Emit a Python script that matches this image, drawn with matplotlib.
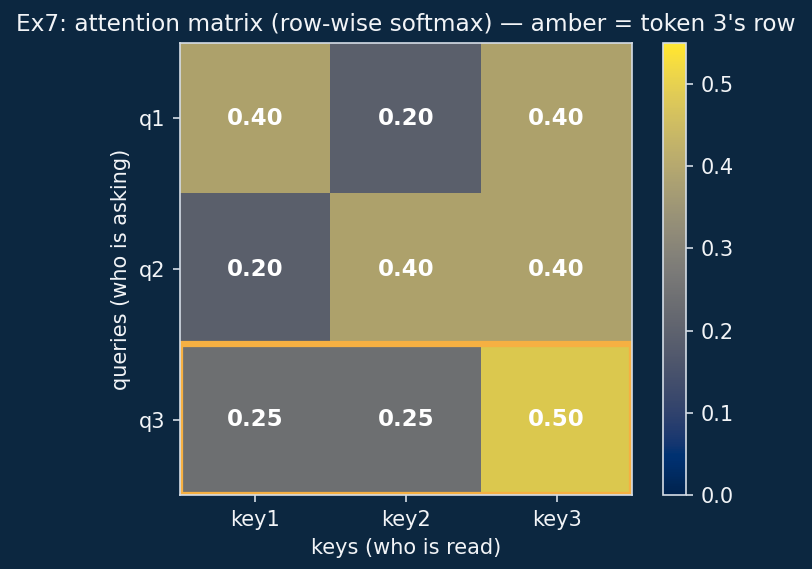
import matplotlib
matplotlib.use("Agg")
import matplotlib.pyplot as plt
import matplotlib.patches as patches
import numpy as np

# attention weights (rows = queries, cols = keys)
queries = ["q1", "q2", "q3"]
keys = ["key1", "key2", "key3"]
weights = np.array([
    [0.40, 0.20, 0.40],
    [0.20, 0.40, 0.40],
    [0.25, 0.25, 0.50],
])
highlight_row = 2

bg = "#0c2740"
fg = "#f2f4f7"
spine_col = "#d5dde6"
amber = "#f6b042"

plt.rcParams['font.family'] = ['DejaVu Sans']
fig = plt.figure(figsize=(812/150, 569/150), dpi=150, facecolor=bg)
ax = fig.add_axes([180/812, 1-495/569, 452/812, 452/569])
cax = fig.add_axes([663/812, 1-495/569, 23/812, 452/569])
ax.set_facecolor(bg)

im = ax.imshow(weights, cmap="cividis", vmin=0, vmax=0.55, alpha=0.96)
for i in range(weights.shape[0]):
    for j in range(weights.shape[1]):
        ax.text(j, i, f"{weights[i, j]:.2f}", ha="center", va="center",
                color="white", fontsize=11, fontweight="bold")

rect = patches.Rectangle((-0.5, highlight_row - 0.5), 3, 1, fill=False,
                         edgecolor=amber, linewidth=3)
ax.add_patch(rect)

ax.set_xticks(range(len(keys)))
ax.set_xticklabels(keys)
ax.set_yticks(range(len(queries)))
ax.set_yticklabels(queries)
ax.set_xlabel("keys (who is read)", color=fg, fontsize=10)
ax.set_ylabel("queries (who is asking)", color=fg, fontsize=10)
ax.set_title("Ex7: attention matrix (row-wise softmax) — amber = token 3's row",
             color=fg, fontsize=11.2, pad=6)
ax.tick_params(colors=spine_col, labelcolor=fg, labelsize=10)
for s in ax.spines.values():
    s.set_color(spine_col)

cb = fig.colorbar(im, cax=cax)
cb.solids.set_alpha(1)
cb.outline.set_edgecolor(spine_col)
cax.tick_params(colors=spine_col, labelcolor=fg, labelsize=10)
cb.set_ticks([0.0, 0.1, 0.2, 0.3, 0.4, 0.5])

fig.savefig("out.png", dpi=150, facecolor=bg)
